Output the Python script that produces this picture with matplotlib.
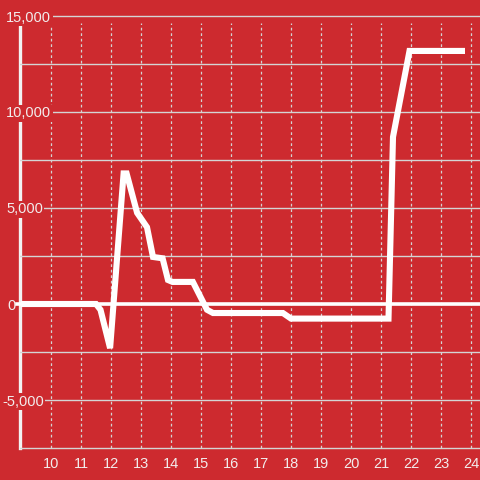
import matplotlib
matplotlib.use("Agg")
import matplotlib.pyplot as plt
from matplotlib.ticker import FuncFormatter
from matplotlib.transforms import ScaledTranslation

# data (hour of day, value)
hours = [9.0, 11.5, 11.65, 11.97, 12.42, 12.52, 12.87, 13.2, 13.4, 13.72, 13.9, 14.05,
         14.73, 15.2, 15.4, 17.73, 18.0, 21.25, 21.4, 21.95, 23.8]
values = [0, 0, -300, -2300, 6800, 6800, 4750, 4000, 2450, 2380, 1250, 1150,
          1150, -300, -470, -470, -760, -760, 8700, 13180, 13180]

x_ticks = list(range(10, 25))
y_grid = [-7500, -5000, -2500, 0, 2500, 5000, 7500, 10000, 12500, 15000]
y_labeled = [-5000, 0, 5000, 10000, 15000]

RED = "#CD2A2F"
GRID = "#D4D4D4"
TXT = "#F2ECEC"

fig = plt.figure(figsize=(4.8, 4.8), dpi=100, facecolor=RED)
ylo, yhi = -7600, 15100
pxper = 96 / 5000.0
top_px = 16 - (yhi - 15000) * pxper
bot_px = 448 + (-7500 - ylo) * pxper
ax = fig.add_axes([20 / 480, (480 - bot_px) / 480, 460 / 480, (bot_px - top_px) / 480])
ax.set_facecolor(RED)
xlo = 10 - 31 / 30.0
ax.set_xlim(xlo, 10 + (480 - 51) / 30.0)
ax.set_ylim(ylo, yhi)

for s in ["top", "right", "bottom"]:
    ax.spines[s].set_visible(False)
ax.spines["left"].set_color("#F2F2F2")
ax.spines["left"].set_linewidth(2.4)
ax.spines["left"].set_bounds(-7500, 14600)
ax.spines["left"].set_zorder(1)

ax.set_yticks(y_grid)
ax.yaxis.set_major_formatter(FuncFormatter(
    lambda v, p: (f"{int(v):,}" if int(v) in y_labeled else "")))
ax.set_xticks(x_ticks)
ax.set_xticklabels([str(t) for t in x_ticks])

ax.grid(axis="y", color=GRID, linewidth=1.0)
ax.tick_params(axis="both", length=0, labelcolor=TXT, labelsize=10.5)
ax.tick_params(axis="y", pad=10.0)
ax.tick_params(axis="x", pad=5)
fig.canvas.draw()
for tick in ax.yaxis.get_major_ticks():
    lbl = tick.label1
    lbl.set_fontfamily("Liberation Sans")
    lbl.set_horizontalalignment("left")
    lbl.set_bbox(dict(facecolor=RED, edgecolor="none", pad=1.0))
    if lbl.get_text().startswith("-"):
        lbl.set_transform(lbl.get_transform() + ScaledTranslation(-4 / 100, 0, fig.dpi_scale_trans))
    elif lbl.get_text() == "0":
        lbl.set_transform(lbl.get_transform() + ScaledTranslation(1 / 100, 0, fig.dpi_scale_trans))
for lbl in ax.get_xticklabels():
    lbl.set_fontfamily("Liberation Sans")

ax.vlines(x_ticks, -7500, 14650, colors=GRID, linewidth=0.9,
          linestyles=(0, (2.2, 2.2)), zorder=1.2)

ax.plot([xlo - 0.1, ax.get_xlim()[1]], [0, 0], color="white", linewidth=2.6,
        zorder=1.8, clip_on=False)

ax.plot(hours, values, color="white", linewidth=4.4, zorder=3,
        solid_joinstyle="miter", solid_capstyle="butt")

fig.savefig("out.png", dpi=100, facecolor=RED)
